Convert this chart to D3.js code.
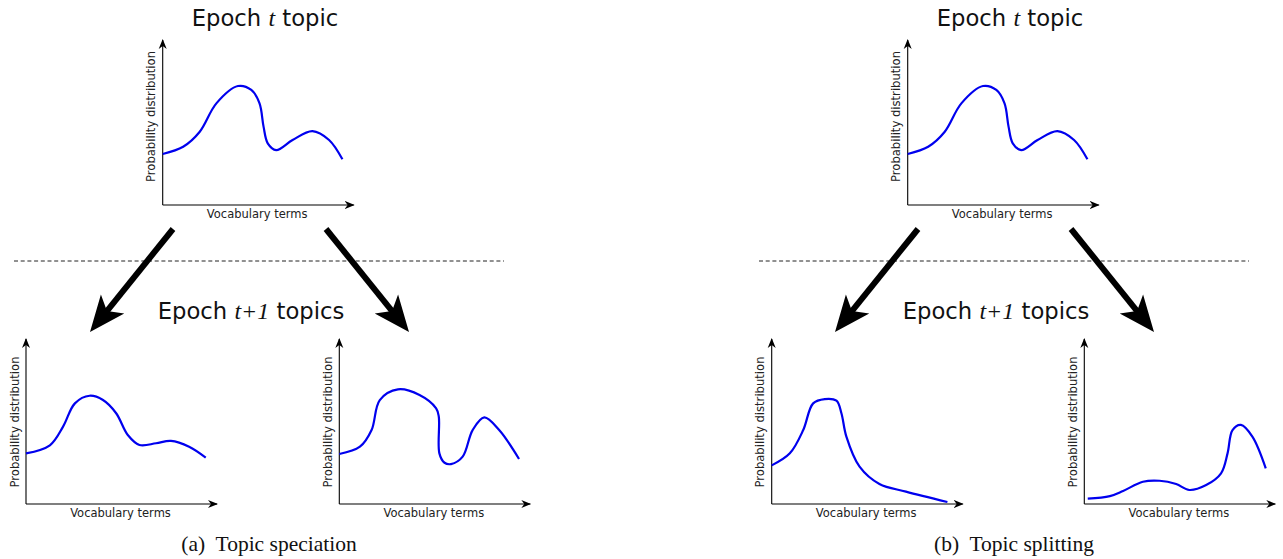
<!DOCTYPE html>
<html><head><meta charset="utf-8">
<script src="https://cdn.jsdelivr.net/npm/d3@7"></script>
<style>html,body{margin:0;padding:0;background:#fff;}svg{display:block;}</style>
</head><body>
<svg id="c" width="1283" height="559"></svg>
<script>
// ---- data: term index (0-100) vs probability (0-100, relative units) ----
const topX   = [0,10.7,19.4,28.1,39.4,46.4,50.7,52.8,55.0,59.4,68.0,78.4,87.1,94.1];
const topY   = [30.9,35.3,44.4,61.6,72.1,69.7,61.6,47.5,37.4,33.3,39.4,44.8,39.4,27.7];
const spec1X = [0,12.5,19.4,25.6,33.3,40.3,47.2,53.3,59.4,68.1,75.9,85.4,94.1];
const spec1Y = [30.7,35.6,46.9,61.0,65.6,63.0,55.0,41.8,35.8,36.8,38.2,34.7,28.1];
const spec2X = [0,10.8,16.9,21.2,30.7,42.0,50.7,52.1,52.4,55.1,58.5,64.6,69.8,75.9,83.7,94.1];
const spec2Y = [30.3,34.7,44.8,63.0,69.5,66.1,58.0,52.9,30.7,25.0,24.2,28.7,44.8,52.5,44.8,27.3];
const split1X = [0,9.5,16.5,21.7,27.8,33.9,36.5,39.1,46.0,56.4,70.3,92.0];
const split1Y = [23.4,30.7,44.8,61.0,63.6,62.6,55.0,40.8,22.6,12.1,7.5,1.2];
const split2X = [1.8,13.4,20.3,30.7,39.4,48.1,55.0,63.8,71.6,75.0,77.6,82.0,88.0,95.0];
const split2Y = [3.2,4.8,7.9,13.5,14.1,12.1,8.5,11.5,18.6,30.7,44.8,47.9,40.8,21.6];
const xLabel = "Vocabulary terms", yLabel = "Probability distribution";
const captions = ["(a)\u00a0 Topic speciation", "(b)\u00a0 Topic splitting"];

const svg = d3.select("#c");
const defs = svg.append("defs");
defs.append("marker").attr("id","ah").attr("viewBox","0 0 10 10").attr("refX",9).attr("refY",5)
  .attr("markerWidth",10).attr("markerHeight",10).attr("markerUnits","userSpaceOnUse").attr("orient","auto")
  .append("path").attr("d","M0,1 L10,5 L0,9 L3,5 Z").attr("fill","#000");

const W = 191, H = 165;
function mini(ox, oy, xs, ys, labelCy) {
  const g = svg.append("g");
  const x = d3.scaleLinear().domain([0,100]).range([ox, ox+W]);
  const y = d3.scaleLinear().domain([0,100]).range([oy, oy-H]);
  g.append("line").attr("x1",x(0)).attr("y1",y(0)).attr("x2",x(0)).attr("y2",y(100))
    .attr("stroke","#000").attr("stroke-width",1.1).attr("marker-end","url(#ah)");
  g.append("line").attr("x1",x(0)).attr("y1",y(0)).attr("x2",x(100)).attr("y2",y(0))
    .attr("stroke","#000").attr("stroke-width",1.1).attr("marker-end","url(#ah)");
  const pts = xs.map((v,i)=>[v, ys[i]]);
  g.append("path").datum(pts)
    .attr("d", d3.line().x(d=>x(d[0])).y(d=>y(d[1])).curve(d3.curveCatmullRom.alpha(0.5)))
    .attr("fill","none").attr("stroke","#0000ee").attr("stroke-width",2.2);
  g.append("text").attr("x", x(50)-1).attr("y", oy+12.5).attr("text-anchor","middle")
    .attr("font-family","DejaVu Sans").attr("font-size",11.5).attr("fill","#222").text(xLabel);
  g.append("text").attr("transform",`translate(${ox-7.5},${labelCy}) rotate(-90)`).attr("text-anchor","middle")
    .attr("font-family","DejaVu Sans").attr("font-size",11.6).attr("fill","#222").text(yLabel);
}

function title(cx, by, pre, ital, post) {
  const t = svg.append("text").attr("x",cx).attr("y",by).attr("text-anchor","middle")
    .attr("font-family","DejaVu Sans").attr("font-size",22.7).attr("fill","#111");
  t.append("tspan").text(pre);
  t.append("tspan").attr("font-family","Liberation Serif").attr("font-style","italic").attr("font-size",24).text(ital);
  t.append("tspan").text(post);
}

function bigArrow(x1,y1,x2,y2){
  const dx=x2-x1, dy=y2-y1, L=Math.hypot(dx,dy), ux=dx/L, uy=dy/L, px=-uy, py=ux;
  const hl=36, hw=15, notch=9;
  const bx=x2-ux*hl, by=y2-uy*hl;
  svg.append("line").attr("x1",x1).attr("y1",y1).attr("x2",x2-ux*(hl-notch-2)).attr("y2",y2-uy*(hl-notch-2))
    .attr("stroke","#000").attr("stroke-width",6);
  svg.append("path").attr("d",`M${x2},${y2} L${bx+px*hw},${by+py*hw} L${x2-ux*(hl-notch)},${y2-uy*(hl-notch)} L${bx-px*hw},${by-py*hw} Z`)
    .attr("fill","#000");
}

function panel(dx, ox1, ox2, d1x, d1y, d2x, d2y, cap, capX){
  title(265+dx, 25.5, "Epoch ", "t", " topic");
  mini(162.7+dx, 205, topX, topY, 116.5);
  svg.append("line").attr("x1",14+dx).attr("y1",261).attr("x2",504+dx).attr("y2",261)
    .attr("stroke","#222").attr("stroke-width",1).attr("stroke-dasharray","4,2.7");
  bigArrow(173+dx,229,90+dx,332);
  bigArrow(326+dx,229,409+dx,332);
  title(251+dx, 319, "Epoch ", "t+1", " topics");
  mini(ox1, 504, d1x, d1y, 422);
  mini(ox2, 504, d2x, d2y, 422);
  svg.append("text").attr("x",capX).attr("y",550.5).attr("text-anchor","middle")
    .attr("font-family","Liberation Serif").attr("font-size",21.5).attr("fill","#111").text(cap);
}
panel(0, 26, 339.3, spec1X, spec1Y, spec2X, spec2Y, captions[0], 269);
panel(745, 771.7, 1084.3, split1X, split1Y, split2X, split2Y, captions[1], 1014);
</script>
</body></html>
